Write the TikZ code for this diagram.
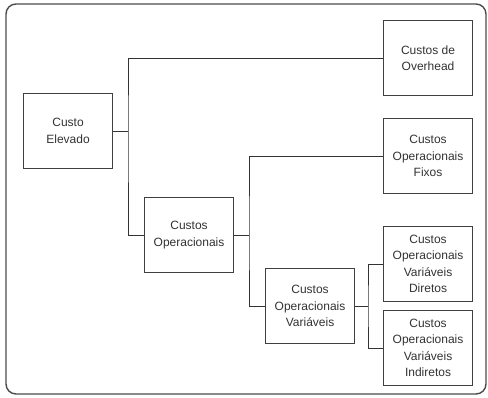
\documentclass[tikz,border=0pt]{standalone}
\usepackage{fontspec}
\setmainfont{Liberation Sans}
\begin{document}
\begin{tikzpicture}[x=1pt,y=-1pt,
  box/.style={draw=black!75,line width=1.1pt,fill=white,minimum width=89pt,minimum height=75pt,
    inner sep=2pt,align=center,text=black!80,font=\fontsize{12}{16.5}\selectfont,anchor=north west},
  link/.style={draw=black!80,line width=1pt}]
\useasboundingbox (0,0) rectangle (488,397);
% outer frame
\draw[draw=black!70,line width=1.4pt,rounded corners=10pt] (6,4) rectangle (486,394);
% boxes
\node[box] (ce) at (23,93) {Custo\\Elevado};
\node[box] (ov) at (383,20) {Custos de\\Overhead};
\node[box] (fx) at (383,118) {Custos\\Operacionais\\Fixos};
\node[box] (op) at (144,197) {Custos\\Operacionais};
\node[box] (va) at (265,268) {Custos\\Operacionais\\Variáveis};
\node[box] (di) at (383,226) {Custos\\Operacionais\\Variáveis\\Diretos};
\node[box] (in) at (383,310) {Custos\\Operacionais\\Variáveis\\Indiretos};
% x positions of the three branch trunks
\coordinate (t1) at (128,0);
\coordinate (t2) at (249,0);
\coordinate (t3) at (368,0);
\coordinate (b1) at (ce.east -| t1);
\coordinate (b2) at (op.east -| t2);
\coordinate (b3) at (va.east -| t3);
% connectors
\draw[link] (ce.east) -- (b1);
\draw[link] (ov.west) -| (b1) |- (op.west);
\draw[link] (op.east) -- (b2);
\draw[link] (fx.west) -| (b2) |- (va.west);
\draw[link] (va.east) -- (b3);
\draw[link] (di.west) -| (b3) |- (in.west);
\end{tikzpicture}
\end{document}
